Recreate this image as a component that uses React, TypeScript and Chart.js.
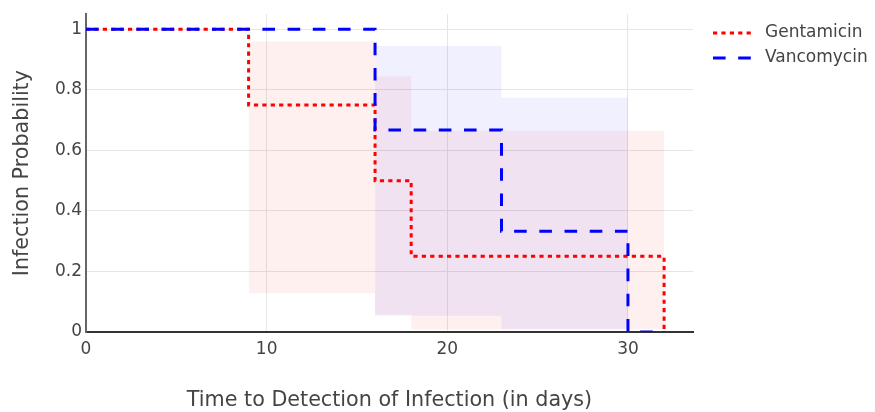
import { useEffect, useRef } from "react";
import { Chart, registerables } from "chart.js";

Chart.register(...registerables);

// Kaplan-Meier step curves
const gentTimes = [0, 9, 16, 18, 32];
const gentSurv = [1, 0.75, 0.5, 0.25, 0];
const vancTimes = [0, 16, 23, 30, 32];
const vancSurv = [1, 0.667, 0.333, 0, 0];

// Confidence bands
const gentCiTimes = [9, 16, 18, 32];
const gentCiUpper = [0.96, 0.845, 0.665, 0.665];
const gentCiLower = [0.128, 0.058, 0.009, 0.009];
const vancCiTimes = [16, 23, 30];
const vancCiUpper = [0.945, 0.774, 0.774];
const vancCiLower = [0.054, 0.009, 0.009];

const seriesNames = ["Gentamicin", "Vancomycin"];
const xTicks = [0, 10, 20, 30];
const yTicks = [0, 0.2, 0.4, 0.6, 0.8, 1];
const yTickLabels = ["0", "0.2", "0.4", "0.6", "0.8", "1"];
const xTitle = "Time to Detection of Infection (in days)";
const yTitle = "Infection Probability";

const RED = "rgb(255,0,0)";
const BLUE = "rgb(0,0,255)";
const FONT = "'DejaVu Sans', Verdana, sans-serif";
const TEXT = "#444";

const pts = (xs: number[], ys: number[]) => xs.map((x, i) => ({ x, y: ys[i] }));

const legendPlugin = {
  id: "customLegend",
  afterDraw(chart: any) {
    const ctx = chart.ctx;
    const items = [
      { name: seriesNames[0], color: RED, dash: [4.2, 4.2], y: 33 },
      { name: seriesNames[1], color: BLUE, dash: [12.6, 12.6], y: 58 },
    ];
    ctx.save();
    for (const it of items) {
      ctx.beginPath();
      ctx.setLineDash(it.dash);
      ctx.lineWidth = 3;
      ctx.strokeStyle = it.color;
      ctx.moveTo(713, it.y);
      ctx.lineTo(752, it.y);
      ctx.stroke();
      ctx.setLineDash([]);
      ctx.fillStyle = TEXT;
      ctx.font = `17px ${FONT}`;
      ctx.textBaseline = "middle";
      ctx.textAlign = "left";
      ctx.fillText(it.name, 765, it.y);
    }
    ctx.restore();
  },
};

export default function App() {
  const ref = useRef<HTMLCanvasElement | null>(null);

  useEffect(() => {
    if (!ref.current) return;
    const band = (color: string) => ({
      borderWidth: 0,
      pointRadius: 0,
      stepped: "before" as const,
      backgroundColor: color,
      borderColor: "transparent",
    });
    const chart = new Chart(ref.current, {
      type: "line",
      data: {
        datasets: [
          {
            label: seriesNames[1],
            data: pts(vancTimes, vancSurv),
            borderColor: BLUE,
            borderWidth: 3,
            borderDash: [12.6, 12.6],
            pointRadius: 0,
            stepped: "before",
            fill: false,
          },
          {
            label: seriesNames[0],
            data: pts(gentTimes, gentSurv),
            borderColor: RED,
            borderWidth: 3,
            borderDash: [4.2, 4.2],
            pointRadius: 0,
            stepped: "before",
            fill: false,
          },
          {
            label: "vanc upper",
            data: pts(vancCiTimes, vancCiUpper),
            ...band("rgba(0,0,255,0.06)"),
            fill: "+1",
          },
          {
            label: "vanc lower",
            data: pts(vancCiTimes, vancCiLower),
            ...band("rgba(0,0,255,0.06)"),
            fill: false,
          },
          {
            label: "gent upper",
            data: pts(gentCiTimes, gentCiUpper),
            ...band("rgba(255,0,0,0.06)"),
            fill: "+1",
          },
          {
            label: "gent lower",
            data: pts(gentCiTimes, gentCiLower),
            ...band("rgba(255,0,0,0.06)"),
            fill: false,
          },
        ],
      },
      options: {
        responsive: false,
        animation: false,
        devicePixelRatio: 1,
        layout: { padding: { top: 12, right: 182, left: 0, bottom: 0 } },
        plugins: {
          legend: { display: false },
          tooltip: { enabled: false },
        },
        scales: {
          x: {
            type: "linear",
            min: 0,
            max: 33.6,
            afterBuildTicks: (s: any) => {
              s.ticks = xTicks.map((v) => ({ value: v }));
            },
            afterFit: (s: any) => {
              s.height = 80;
            },
            grid: { color: "#e6e6e6", drawTicks: false, lineWidth: 1 },
            border: { color: "#333", width: 2 },
            ticks: {
              color: TEXT,
              font: { family: FONT, size: 17 },
              padding: 7,
              maxRotation: 0,
            },
            title: {
              display: true,
              text: xTitle,
              color: TEXT,
              font: { family: FONT, size: 20.7 },
              padding: { top: 0, bottom: -1 },
            },
          },
          y: {
            type: "linear",
            min: 0,
            max: 1.05,
            afterBuildTicks: (s: any) => {
              s.ticks = yTicks.map((v) => ({ value: v }));
            },
            afterFit: (s: any) => {
              s.width = 86;
            },
            grid: { color: "#e6e6e6", drawTicks: false, lineWidth: 1 },
            border: { color: "#666", width: 2 },
            ticks: {
              color: TEXT,
              font: { family: FONT, size: 17 },
              padding: 4,
              callback: (_v: any, i: number) => yTickLabels[i],
            },
            title: {
              display: true,
              text: yTitle,
              color: TEXT,
              font: { family: FONT, size: 20.7 },
              padding: { top: 10, bottom: 0 },
            },
          },
        },
      },
      plugins: [legendPlugin],
    });
    return () => chart.destroy();
  }, []);

  return (
    <div style={{ position: "absolute", left: 0, top: 0, width: 875, height: 412, background: "#fff" }}>
      <canvas ref={ref} width={875} height={412} />
    </div>
  );
}
